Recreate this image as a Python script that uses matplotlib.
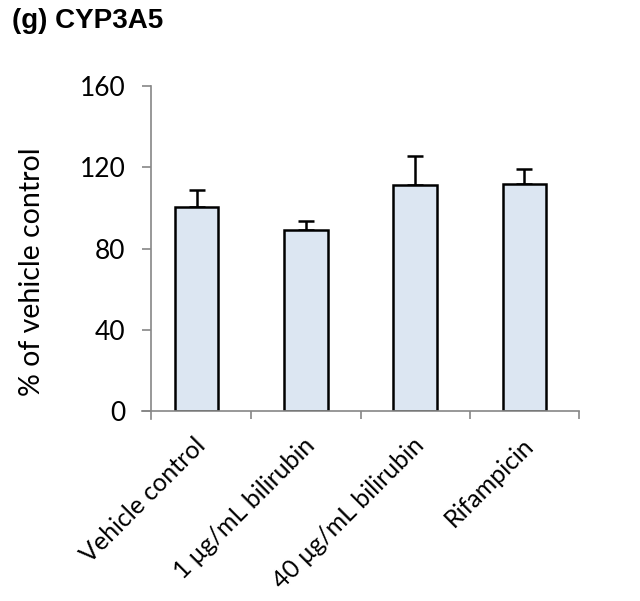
import matplotlib
matplotlib.use("Agg")
import matplotlib.pyplot as plt
import numpy as np

categories = ["Vehicle control", "1 μg/mL bilirubin", "40 μg/mL bilirubin", "Rifampicin"]
means = [100.2, 89.0, 111.4, 111.8]
errors = [8.6, 4.4, 14.0, 7.2]
yticks = [0, 40, 80, 120, 160]

plt.rcParams['font.family'] = ['Lato', 'DejaVu Sans']

fig = plt.figure(figsize=(6.4, 6.01), dpi=100)
ax = fig.add_axes([0.2219, 0.3161, 0.6828, 0.5408])

for s in ['top', 'right']:
    ax.spines[s].set_visible(False)
for s in ['left', 'bottom']:
    ax.spines[s].set_color('#868686')
    ax.spines[s].set_linewidth(1.2)
ax.spines['left'].set_position(('data', -0.42))

x = np.arange(len(categories))
ax.bar(x, means, width=0.4, color='#dce6f2', edgecolor='black', linewidth=1.8, zorder=2)
ax.errorbar(x, means, yerr=[np.zeros(len(errors)), errors], fmt='none', ecolor='black',
            elinewidth=1.8, capsize=6, capthick=1.8, zorder=1)

ax.set_xlim(-0.5, len(categories) - 0.5)
ax.set_ylim(0, 160)
ax.spines['left'].set_bounds(-4, 160)
ax.set_yticks(yticks)
ax.set_yticklabels([str(v) for v in yticks], fontsize=19)
ax.set_xticks(np.arange(1, len(categories) + 1) - 0.5)
ax.set_xticklabels([])
ax.tick_params(axis='x', length=6, width=1.2, color='#868686', direction='out')
ax.tick_params(axis='y', length=6.3, width=1.2, color='#868686', direction='out', pad=12)

for xi, lab in zip(x, categories):
    ax.text(xi - 0.03, -11, lab, rotation=45, ha='right', va='top', rotation_mode='anchor',
            fontsize=18, transform=ax.transData)

ax.set_ylabel('% of vehicle control', fontsize=20.5)
ax.yaxis.set_label_coords(-0.222, 0.43)

fig.text(0.019, 0.965, '(g) CYP3A5', fontsize=20, fontweight='bold',
         family='Liberation Sans', ha='left', va='center')

fig.savefig('out.png', dpi=100)
